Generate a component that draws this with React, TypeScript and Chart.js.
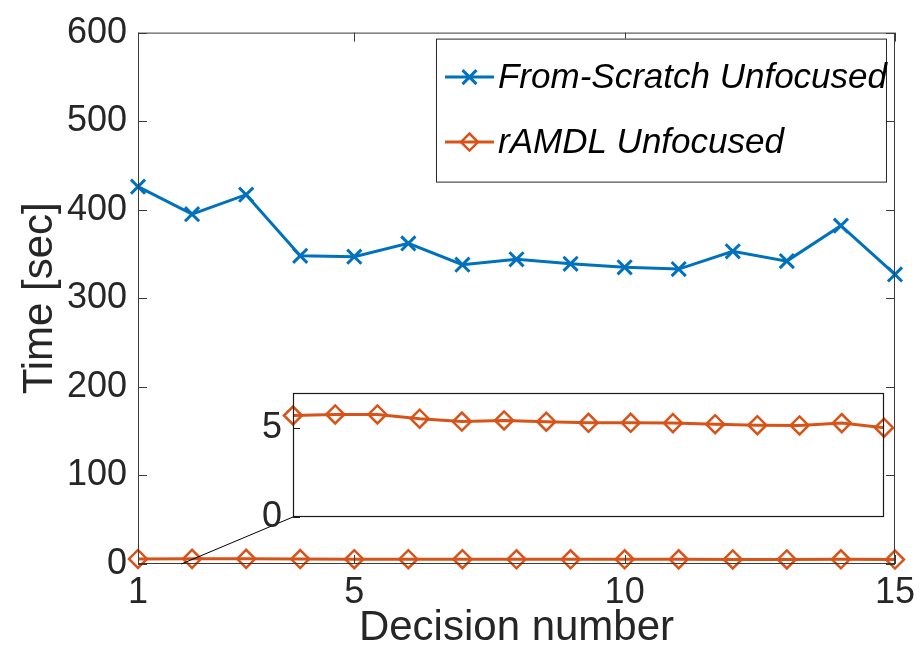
import React, { useEffect, useRef } from "react";
import { Chart, registerables } from "chart.js";

Chart.register(...registerables);

// ---------- data ----------
const decisions = [1, 2, 3, 4, 5, 6, 7, 8, 9, 10, 11, 12, 13, 14, 15];
const fromScratchUnfocused = [426, 395, 417, 348, 347, 362, 338, 344, 339, 335, 333, 353, 342, 382, 327];
const ramdlUnfocused = [5.73, 5.79, 5.79, 5.55, 5.39, 5.45, 5.38, 5.32, 5.32, 5.3, 5.24, 5.18, 5.17, 5.3, 5.04];
const xTicks = [1, 5, 10, 15];
const yTicks = [0, 100, 200, 300, 400, 500, 600];
const insetYTicks = [0, 5];
const seriesNames = ["From-Scratch Unfocused", "rAMDL Unfocused"];
const zoomAnchorX = 1.8; // where the zoom connector meets the main x axis (data units)

// ---------- style / layout ----------
const W = 922;
const H = 649;
const FONT = '"Liberation Sans", Arial, Helvetica, sans-serif';
const BLUE = "#0072BD";
const ORANGE = "#D95319";
const AXIS = "#262626";
const INSET = { left: 293, top: 393, right: 884, bottom: 517 };
const TICK_LEN = 9;

function drawMarker(ctx: CanvasRenderingContext2D, style: string, x: number, y: number, color: string) {
  ctx.save();
  ctx.strokeStyle = color;
  ctx.beginPath();
  if (style === "crossRot") {
    const r = 7;
    ctx.lineWidth = 3;
    ctx.moveTo(x - r, y - r);
    ctx.lineTo(x + r, y + r);
    ctx.moveTo(x + r, y - r);
    ctx.lineTo(x - r, y + r);
  } else {
    const r = 8.5;
    ctx.lineWidth = 2.5;
    ctx.moveTo(x - r, y);
    ctx.lineTo(x, y - r);
    ctx.lineTo(x + r, y);
    ctx.lineTo(x, y + r);
    ctx.closePath();
  }
  ctx.stroke();
  ctx.restore();
}

const mainFrame = {
  id: "mainFrame",
  afterDatasetsDraw(chart: any) {
    const { ctx, chartArea: ca, scales } = chart;
    const xs = scales.x;
    const ys = scales.y;
    ctx.save();
    ctx.strokeStyle = "#3a3a3a";
    ctx.lineWidth = 1;
    ctx.strokeRect(ca.left + 0.5, ca.top + 0.5, ca.right - ca.left - 1, ca.bottom - ca.top - 1);
    ctx.beginPath();
    for (const v of yTicks) {
      const py = Math.round(ys.getPixelForValue(v)) + 0.5;
      ctx.moveTo(ca.left, py);
      ctx.lineTo(ca.left + TICK_LEN, py);
      ctx.moveTo(ca.right, py);
      ctx.lineTo(ca.right - TICK_LEN, py);
    }
    for (const v of xTicks) {
      const px = Math.round(xs.getPixelForValue(v)) + 0.5;
      ctx.moveTo(px, ca.bottom);
      ctx.lineTo(px, ca.bottom - TICK_LEN);
      ctx.moveTo(px, ca.top);
      ctx.lineTo(px, ca.top + TICK_LEN);
    }
    ctx.stroke();

    // zoom connector
    ctx.strokeStyle = "#000";
    ctx.lineWidth = 1;
    ctx.beginPath();
    ctx.moveTo(xs.getPixelForValue(zoomAnchorX), ys.getPixelForValue(0));
    ctx.lineTo(INSET.left, INSET.bottom);
    ctx.stroke();

    // legend
    const L = { left: ca.right - 459, top: ca.top + 6, right: ca.right - 9, bottom: ca.top + 149 };
    ctx.fillStyle = "#fff";
    ctx.fillRect(L.left, L.top, L.right - L.left, L.bottom - L.top);
    ctx.strokeStyle = AXIS;
    ctx.lineWidth = 1;
    ctx.strokeRect(L.left + 0.5, L.top + 0.5, L.right - L.left, L.bottom - L.top);
    const entries = [
      { name: seriesNames[0], color: BLUE, style: "crossRot", y: L.top + 38.5 },
      { name: seriesNames[1], color: ORANGE, style: "rectRot", y: L.top + 103.5 },
    ];
    for (const e of entries) {
      ctx.strokeStyle = e.color;
      ctx.lineWidth = 3;
      ctx.beginPath();
      ctx.moveTo(L.left + 9, e.y);
      ctx.lineTo(L.left + 58, e.y);
      ctx.stroke();
      drawMarker(ctx, e.style, L.left + 33.5, e.y, e.color);
      ctx.fillStyle = "#000";
      ctx.font = `italic 35px ${FONT}`;
      ctx.textAlign = "left";
      ctx.textBaseline = "alphabetic";
      ctx.fillText(e.name, L.left + 62, e.y + 11);
    }
    ctx.restore();
  },
};

const insetFrame = {
  id: "insetFrame",
  beforeDatasetsDraw(chart: any) {
    const { ctx, chartArea: ca } = chart;
    ctx.save();
    ctx.fillStyle = "#fff";
    ctx.fillRect(ca.left, ca.top, ca.right - ca.left, ca.bottom - ca.top);
    ctx.restore();
  },
  afterDatasetsDraw(chart: any) {
    const { ctx, chartArea: ca, scales } = chart;
    ctx.save();
    ctx.strokeStyle = "#1a1a1a";
    ctx.lineWidth = 1.2;
    ctx.strokeRect(ca.left + 0.5, ca.top + 0.5, ca.right - ca.left - 1, ca.bottom - ca.top - 1);
    ctx.beginPath();
    for (const v of insetYTicks) {
      const py = Math.round(scales.y.getPixelForValue(v)) + 0.5;
      ctx.moveTo(ca.left, py);
      ctx.lineTo(ca.left + 7, py);
    }
    ctx.stroke();
    ctx.restore();
  },
};

function lineDataset(label: string, values: number[], color: string, style: string, radius: number, pbw: number) {
  return {
    label,
    data: decisions.map((d, i) => ({ x: d, y: values[i] })),
    borderColor: color,
    backgroundColor: color,
    borderWidth: 3,
    pointStyle: style,
    pointRadius: radius,
    pointBorderWidth: pbw,
    pointBorderColor: color,
    pointBackgroundColor: "rgba(0,0,0,0)",
    tension: 0,
    clip: false as any,
  };
}

export default function App() {
  const mainRef = useRef<HTMLCanvasElement>(null);
  const insetRef = useRef<HTMLCanvasElement>(null);

  useEffect(() => {
    if (!mainRef.current || !insetRef.current) return;
    const tickFont = { family: FONT, size: 36 };
    const main = new Chart(mainRef.current, {
      type: "line",
      data: {
        datasets: [
          lineDataset(seriesNames[0], fromScratchUnfocused, BLUE, "crossRot", 10, 3),
          lineDataset(seriesNames[1], ramdlUnfocused, ORANGE, "rectRot", 9, 2.5),
        ] as any,
      },
      options: {
        animation: false,
        responsive: false,
        events: [],
        layout: { padding: { left: 0, right: 24, top: 27, bottom: 0 } },
        plugins: { legend: { display: false }, tooltip: { enabled: false } },
        scales: {
          x: {
            type: "linear",
            min: 1,
            max: 15,
            afterBuildTicks: (s: any) => { s.ticks = xTicks.map((v) => ({ value: v })); },
            afterFit: (s: any) => { s.height = 85; },
            grid: { display: false, drawTicks: false },
            border: { display: false },
            ticks: { font: tickFont, color: AXIS, padding: 7, maxRotation: 0, autoSkip: false },
            title: {
              display: true,
              text: "Decision number",
              color: AXIS,
              font: { family: FONT, size: 42, lineHeight: 1 },
              padding: { top: 0, bottom: 0 },
            },
          },
          y: {
            type: "linear",
            min: 0,
            max: 600,
            afterBuildTicks: (s: any) => { s.ticks = yTicks.map((v) => ({ value: v })); },
            afterFit: (s: any) => { s.width = 138; },
            grid: { display: false, drawTicks: false },
            border: { display: false },
            ticks: { font: tickFont, color: AXIS, padding: 11, autoSkip: false },
            title: {
              display: true,
              text: "Time [sec]",
              color: AXIS,
              font: { family: FONT, size: 42, lineHeight: 1.2 },
              padding: { top: 15, bottom: 0 },
            },
          },
        },
      } as any,
      plugins: [mainFrame],
    });

    const inset = new Chart(insetRef.current, {
      type: "line",
      data: {
        datasets: [lineDataset(seriesNames[1], ramdlUnfocused, ORANGE, "rectRot", 9, 2.5)] as any,
      },
      options: {
        animation: false,
        responsive: false,
        events: [],
        layout: {
          padding: { left: INSET.left - 60, right: W - INSET.right, top: INSET.top, bottom: H - INSET.bottom },
        },
        plugins: { legend: { display: false }, tooltip: { enabled: false } },
        scales: {
          x: { type: "linear", min: 1, max: 15, display: false },
          y: {
            type: "linear",
            min: 0,
            max: 7,
            afterBuildTicks: (s: any) => { s.ticks = insetYTicks.map((v) => ({ value: v })); },
            afterFit: (s: any) => { s.width = 60; },
            grid: { display: false, drawTicks: false },
            border: { display: false },
            ticks: { font: tickFont, color: AXIS, padding: 11, autoSkip: false },
          },
        },
      } as any,
      plugins: [insetFrame],
    });

    return () => {
      main.destroy();
      inset.destroy();
    };
  }, []);

  return (
    <div style={{ position: "fixed", left: 0, top: 0, width: W, height: H, background: "#fff" }}>
      <canvas ref={mainRef} width={W} height={H} style={{ position: "absolute", left: 0, top: 0 }} />
      <canvas
        ref={insetRef}
        width={W}
        height={H}
        style={{ position: "absolute", left: 0, top: 0, pointerEvents: "none" }}
      />
    </div>
  );
}
